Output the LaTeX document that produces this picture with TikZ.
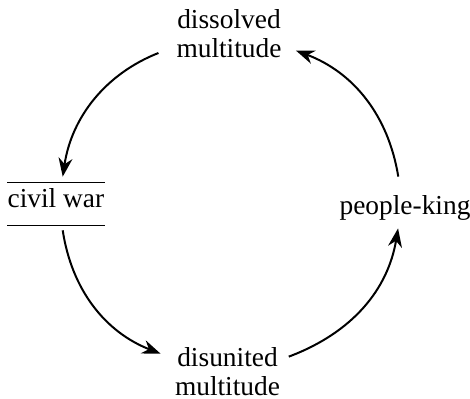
\documentclass[tikz,border=0pt]{standalone}
\usepackage{fontspec}
\setmainfont{Liberation Serif}
\usetikzlibrary{arrows.meta}

\tikzset{
  ruled/.style={inner xsep=0pt,inner ysep=0pt,text height=10pt,text depth=6.8pt,
    append after command={(\tikzlastnode.north west) edge[line width=0.5pt] (\tikzlastnode.north east)
                          (\tikzlastnode.south west) edge[line width=0.5pt] (\tikzlastnode.south east)}},
}

\begin{document}
\begin{tikzpicture}[>={Stealth[length=7.5pt,width=5.6pt]},font=\fontsize{11}{11.6}\selectfont]

            \useasboundingbox (-91.97pt,-79.92pt) rectangle (96.79pt,80.32pt);

            \node[align=center] (dissolved) at (0pt,66.9pt) {dissolved\\multitude};

            \node[ruled] (civil) at (-69.5pt,-1.6pt) {civil war};

            \node[text height=11.25pt,text depth=0.8pt,inner ysep=2pt] (king) at (70.7pt,-0.8pt) {people-king};

            \node[align=center] (disunited) at (-0.6pt,-68.9pt) {disunited\\multitude};

            

            \path[->,line width=0.8pt,shorten >=2.4pt,shorten <=2pt]
                      (dissolved) edge [bend right=30,shorten <=4pt] (civil)

                      (civil) edge [bend right=30] (disunited)

                      (disunited) edge [bend right=30,shorten <=0pt] (king)

                      (king) edge [bend right=30] (dissolved);

        \end{tikzpicture}
\end{document}
